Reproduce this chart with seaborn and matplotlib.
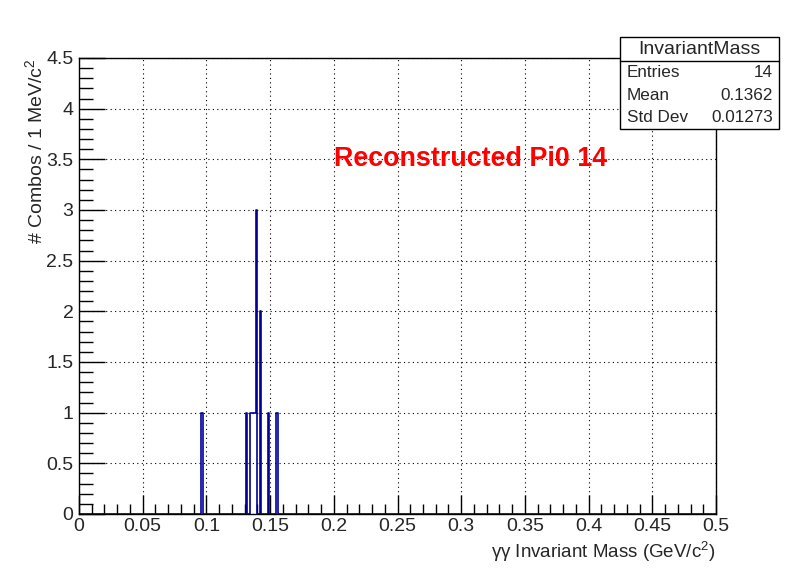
import matplotlib
matplotlib.use("Agg")
import matplotlib.pyplot as plt
import seaborn as sns
import pandas as pd
from matplotlib.ticker import MultipleLocator

# bin centres (GeV/c^2) and counts, 1 MeV bins
bin_mass = [0.0965, 0.1315, 0.1345, 0.1355, 0.1365, 0.1375, 0.1385,
            0.1395, 0.1425, 0.1485, 0.1555]
bin_count = [1, 1, 1, 1, 1, 1, 1, 3, 2, 1, 1]

stats_names = ["Entries", "Mean", "Std Dev"]
stats_values = ["14", "0.1362", "0.01273"]

masses = []
for m, c in zip(bin_mass, bin_count):
    masses += [m] * c
df = pd.DataFrame({"mass": masses})

sns.set_style("white")
plt.rcParams["font.family"] = ["Liberation Sans", "DejaVu Sans"]
plt.rcParams["mathtext.fontset"] = "custom"
plt.rcParams["mathtext.rm"] = "Liberation Sans"

fig = plt.figure(figsize=(7.96, 5.72), dpi=100)
ax = fig.add_axes([79 / 796, 58 / 572, 637 / 796, 456 / 572])

sns.histplot(data=df, x="mass", binwidth=0.001, binrange=(0, 0.5),
             element="step", fill=False, color="#000099", linewidth=1.2, ax=ax)

ax.set_xlim(0, 0.5)
ax.set_ylim(0, 4.5)
ax.xaxis.set_major_locator(MultipleLocator(0.05))
ax.xaxis.set_minor_locator(MultipleLocator(0.01))
ax.yaxis.set_major_locator(MultipleLocator(0.5))
ax.yaxis.set_minor_locator(MultipleLocator(0.1))
ax.xaxis.set_major_formatter(plt.FuncFormatter(lambda v, p: f"{v:g}"))
ax.yaxis.set_major_formatter(plt.FuncFormatter(lambda v, p: f"{v:g}"))

ax.grid(True, which="major", linestyle=(0, (1, 3)), color="black", linewidth=0.8)
ax.tick_params(axis="both", which="both", direction="in", bottom=True, left=True,
               top=False, right=False, color="black", width=1)
ax.tick_params(axis="both", which="major", labelsize=14)
ax.tick_params(axis="x", which="major", length=14, pad=3)
ax.tick_params(axis="y", which="major", length=19, pad=4)
ax.tick_params(axis="x", which="minor", length=7)
ax.tick_params(axis="y", which="minor", length=10)
for s in ax.spines.values():
    s.set_color("black")
    s.set_linewidth(1)

ax.set_xlabel("γγ Invariant Mass (GeV/c$^{2}$)", fontsize=13.5)
ax.xaxis.set_label_coords(1.0, -0.055)
ax.xaxis.label.set_horizontalalignment("right")
ax.set_ylabel("# Combos / 1 MeV/c$^{2}$", fontsize=14)
ax.yaxis.set_label_coords(-0.05, 1.0)
ax.yaxis.label.set_horizontalalignment("right")

ax.text(0.2, 3.5, "Reconstructed Pi0 14", color="red", fontsize=19.4,
        fontweight="bold", va="center", ha="left")

# stats box
bx0, bx1 = 620 / 796, 779 / 796
by_top, by_title, by_bot = 1 - 37 / 572, 1 - 61 / 572, 1 - 129 / 572
fig.patches.append(plt.Rectangle((bx0, by_bot), bx1 - bx0, by_top - by_bot,
                                 transform=fig.transFigure, facecolor="white",
                                 edgecolor="black", linewidth=1, zorder=5))
fig.lines.append(plt.Line2D([bx0, bx1], [by_title, by_title],
                            transform=fig.transFigure, color="black",
                            linewidth=1, zorder=6))
fig.text((bx0 + bx1) / 2, (by_top + by_title) / 2, "InvariantMass",
         ha="center", va="center", fontsize=14, zorder=7)
row_h = (by_title - by_bot) / 3
for i, (n, v) in enumerate(zip(stats_names, stats_values)):
    y = by_title - row_h * (i + 0.5)
    fig.text(bx0 + 7 / 796, y, n, ha="left", va="center", fontsize=12.3, zorder=7)
    fig.text(bx1 - 6 / 796, y, v, ha="right", va="center", fontsize=12.3, zorder=7)

fig.savefig("out.png", dpi=100)
